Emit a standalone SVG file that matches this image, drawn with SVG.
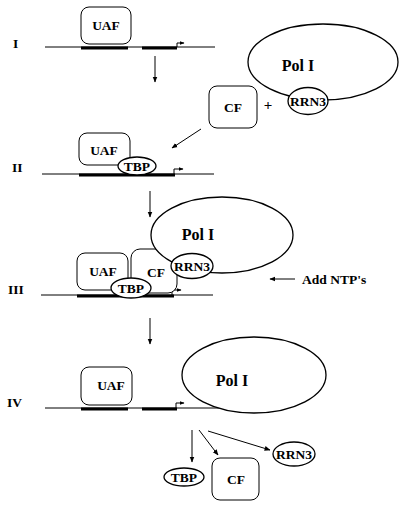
<svg xmlns="http://www.w3.org/2000/svg" width="405" height="511" viewBox="0 0 405 511">
<defs>
<marker id="ah" viewBox="0 0 10 10" refX="9" refY="5" markerWidth="6" markerHeight="6" orient="auto" markerUnits="userSpaceOnUse">
<path d="M0,1 L10,5 L0,9 Z" fill="#000"/>
</marker>
<marker id="ph" viewBox="0 0 10 10" refX="9" refY="5" markerWidth="5" markerHeight="5" orient="auto" markerUnits="userSpaceOnUse">
<path d="M0,1 L10,5 L0,9 Z" fill="#000"/>
</marker>
</defs>
<style>
text{font-family:"Liberation Serif","Times New Roman",serif;font-weight:bold;fill:#000}
.t{font-size:13.5px;text-anchor:middle}
.p{font-size:16px;text-anchor:middle}
.lab{font-size:13.5px}
.box{fill:#fff;stroke:#000;stroke-width:1}
.ell{fill:#fff;stroke:#000;stroke-width:1.3}
.dna{stroke:#000;stroke-width:1;fill:none}
.bar{stroke:#000;stroke-width:3;fill:none}
.conn{stroke:#000;stroke-width:1;fill:none}
.prom{stroke:#000;stroke-width:1;fill:none}
</style>
<rect width="405" height="511" fill="#fff"/>

<g id="labels">
<text class="lab" x="13" y="48">I</text>
<text class="lab" x="12" y="172">II</text>
<text class="lab" x="8" y="294">III</text>
<text class="lab" x="7" y="407">IV</text>
</g>

<g id="stage1">
<line class="dna" x1="45" y1="47" x2="215" y2="47"/>
<line class="bar" x1="81" y1="48" x2="128" y2="48"/>
<line class="bar" x1="142" y1="48" x2="177" y2="48"/>
<path class="prom" d="M177,47 V43 H184" marker-end="url(#ph)"/>
<g id="uaf1"><rect class="box" x="81" y="7" width="50" height="37" rx="8"/><text class="t" x="106" y="30">UAF</text></g>
<g id="pol1"><ellipse class="ell" cx="323" cy="62" rx="75" ry="38"/><text class="p" x="298" y="71">Pol I</text></g>
<g id="rrn3a"><ellipse class="ell" cx="308" cy="101" rx="20" ry="13.5"/><text class="t" x="308" y="106">RRN3</text></g>
<g id="cf1"><rect class="box" x="209" y="86" width="48" height="42" rx="8"/><text class="t" x="233" y="112">CF</text></g>
<text class="t" x="268" y="110" style="font-size:15px">+</text>
</g>

<g id="stage2">
<line class="dna" x1="42" y1="174" x2="214" y2="174"/>
<line class="bar" x1="79" y1="175" x2="175" y2="175"/>
<path class="prom" d="M174,174 V169 H183" marker-end="url(#ph)"/>
<g id="uaf2"><rect class="box" x="79" y="133" width="51" height="32" rx="8"/><text class="t" x="104" y="155">UAF</text></g>
<g id="tbp2"><ellipse class="ell" cx="137" cy="166" rx="19" ry="9"/><text class="t" x="137" y="171">TBP</text></g>
</g>

<g id="stage3">
<line class="dna" x1="41" y1="295" x2="213" y2="295"/>
<line class="bar" x1="77" y1="296" x2="174" y2="296"/>
<path class="prom" d="M172,295 V290 H181" marker-end="url(#ph)"/>
<g id="uaf3"><rect class="box" x="77" y="253" width="51" height="37" rx="8"/><text class="t" x="103" y="276">UAF</text></g>
<g id="cf3"><rect class="box" x="131" y="249" width="46" height="44" rx="9"/><text class="t" x="156" y="277">CF</text></g>
<g id="pol3"><ellipse class="ell" cx="222" cy="235" rx="71" ry="38"/><text class="p" x="198" y="240">Pol I</text></g>
<g id="rrn3c"><ellipse class="ell" cx="192" cy="266" rx="21" ry="12.5"/><text class="t" x="192" y="271">RRN3</text></g>
<g id="tbp3"><ellipse class="ell" cx="131" cy="288" rx="20" ry="10"/><text class="t" x="131" y="293">TBP</text></g>
<text class="lab" x="302" y="284">Add NTP's</text>
</g>

<g id="stage4">
<line class="dna" x1="45" y1="408" x2="220" y2="408"/>
<line class="bar" x1="81" y1="409" x2="128" y2="409"/>
<line class="bar" x1="142" y1="409" x2="177" y2="409"/>
<path class="prom" d="M176,408 V403 H184" marker-end="url(#ph)"/>
<g id="uaf4"><rect class="box" x="81" y="367" width="51" height="38" rx="8"/><text class="t" x="111" y="390">UAF</text></g>
<g id="pol4"><ellipse class="ell" cx="254" cy="375" rx="72" ry="38"/><text class="p" x="232" y="386">Pol I</text></g>
<g id="tbp4"><ellipse class="ell" cx="184" cy="477" rx="20" ry="9"/><text class="t" x="184" y="482">TBP</text></g>
<g id="cf4"><rect class="box" x="212" y="458" width="47" height="42" rx="8"/><text class="t" x="236" y="484">CF</text></g>
<g id="rrn3d"><ellipse class="ell" cx="294" cy="454" rx="21" ry="12"/><text class="t" x="294" y="459">RRN3</text></g>
</g>

<g id="connectors">
<line class="conn" x1="155" y1="56" x2="155" y2="82" marker-end="url(#ah)"/>
<line class="conn" x1="201" y1="129" x2="172" y2="148" marker-end="url(#ah)"/>
<line class="conn" x1="150" y1="191" x2="150" y2="217" marker-end="url(#ah)"/>
<line class="conn" x1="295" y1="279" x2="270" y2="279" marker-end="url(#ah)"/>
<line class="conn" x1="150" y1="318" x2="150" y2="344" marker-end="url(#ah)"/>
<line class="conn" x1="192" y1="430" x2="192" y2="462" marker-end="url(#ah)"/>
<line class="conn" x1="199" y1="430" x2="218" y2="455" marker-end="url(#ah)"/>
<line class="conn" x1="208" y1="431" x2="270" y2="450" marker-end="url(#ah)"/>
</g>
</svg>
